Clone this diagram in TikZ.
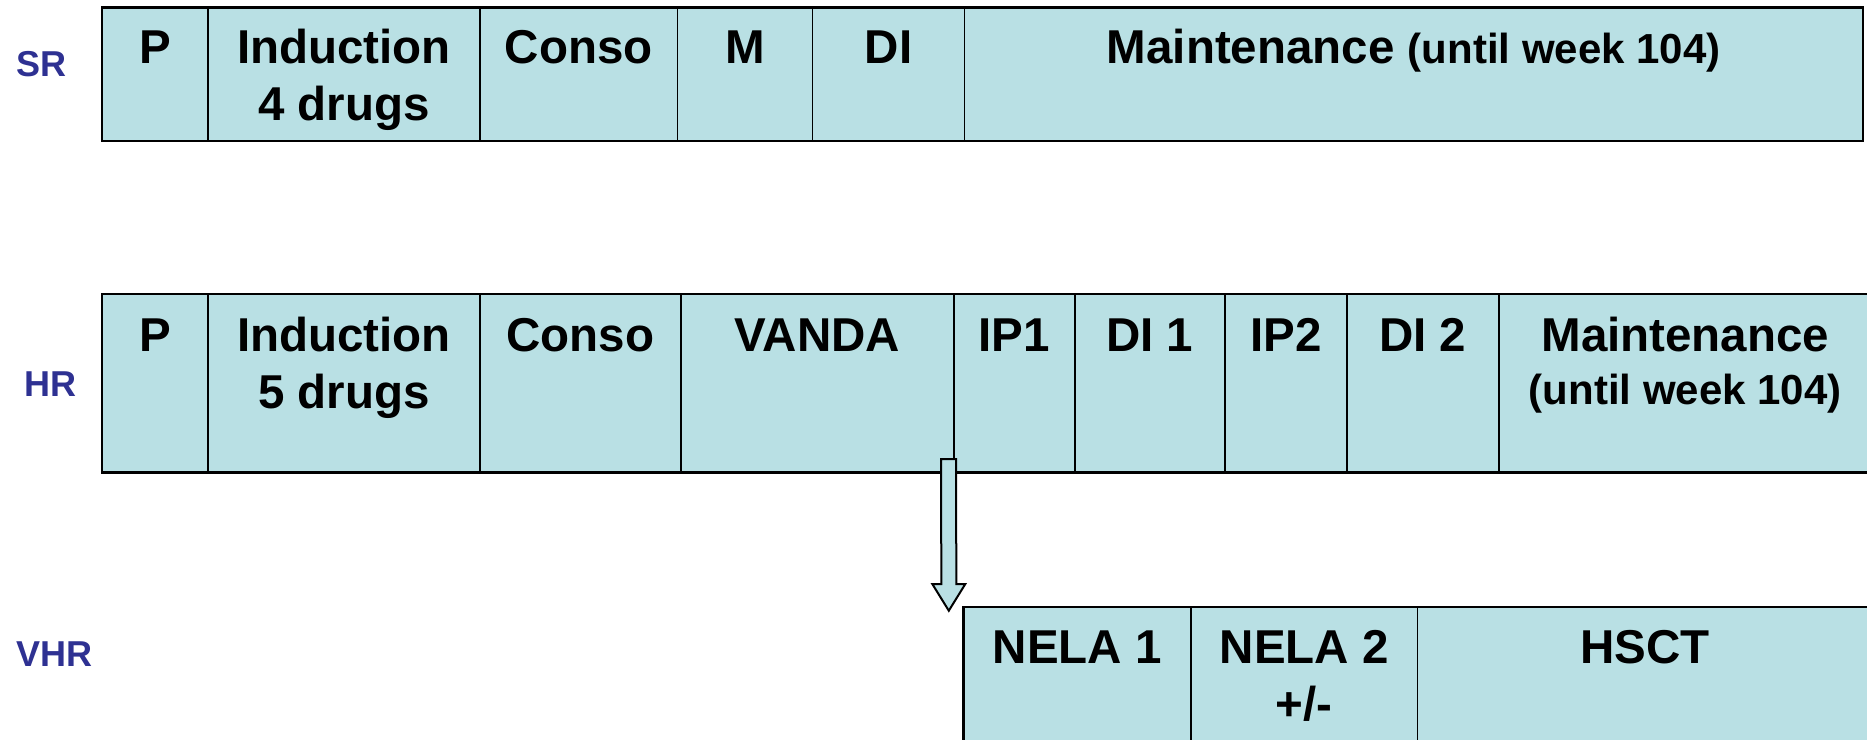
\documentclass[tikz,border=0pt]{standalone}
\usepackage{fontspec}
\setmainfont{Liberation Sans}
\usetikzlibrary{calc,fit}

\definecolor{phasefill}{RGB}{185,224,228}
\definecolor{armblue}{RGB}{46,49,146}

% centred multi-line text whose baseline is that of its first line
\newcommand\stacked[1]{\begin{tabular}[t]{@{}c@{}}#1\end{tabular}}
\newcommand\notesize{\fontsize{21}{25}\selectfont}

\begin{document}
\begin{tikzpicture}[x=0.5pt,y=-0.5pt,
  cellbox/.style={draw=black, line width=0.9pt, fill=phasefill, inner sep=0pt, outer sep=0pt},
  rowframe/.style={draw=black, line width=1.4pt},
  phasetext/.style={anchor=base, inner sep=0pt, font=\bfseries\fontsize{23.75}{28.5}\selectfont},
  armlabel/.style={anchor=base west, inner sep=0pt, text=armblue, font=\bfseries\fontsize{18}{20}\selectfont},
  blockarrow/.style={draw=black, line width=1pt, fill=phasefill, line join=miter},
]
\useasboundingbox (0,0) rectangle (1867,739);
\clip (0,0) rectangle (1867,739);

% ---------- SR arm ----------
\node[cellbox, fit={(102,7.5) (208,141)}]    (srP)   {};
\node[cellbox, fit={(208,7.5) (480,141)}]    (srInd) {};
\node[cellbox, fit={(480,7.5) (677.5,141)}]  (srCon) {};
\node[cellbox, fit={(677.5,7.5) (812.5,141)}](srM)   {};
\node[cellbox, fit={(812.5,7.5) (964.5,141)}](srDI)  {};
\node[cellbox, fit={(964.5,7.5) (1863,141)}] (srMnt) {};
\draw[rowframe] (srP.north west) rectangle (srMnt.south east);

\node[phasetext] (tsrP)   at ($(srP.north)+(0,56)$)   {P};
\node[phasetext] (tsrInd) at ($(srInd.north)+(0,56)$) {\stacked{Induction\\4 drugs}};
\node[phasetext] (tsrCon) at ($(srCon.north)+(0,56)$) {Conso};
\node[phasetext] (tsrM)   at ($(srM.north)+(0,56)$)   {M};
\node[phasetext] (tsrDI)  at ($(srDI.north)+(0,56)$)  {DI};
\node[phasetext] (tsrMnt) at ($(srMnt.north)+(0,56)$) {Maintenance {\notesize(until week 104)}};

% ---------- HR arm ----------
\node[cellbox, fit={(102,294) (208,472.7)}]     (hrP)   {};
\node[cellbox, fit={(208,294) (480,472.7)}]     (hrInd) {};
\node[cellbox, fit={(480,294) (681,472.7)}]     (hrCon) {};
\node[cellbox, fit={(681,294) (953.6,472.7)}]   (hrVan) {};
\node[cellbox, fit={(953.6,294) (1074.7,472.7)}](hrIPa) {};
\node[cellbox, fit={(1074.7,294) (1225,472.7)}] (hrDIa) {};
\node[cellbox, fit={(1225,294) (1347,472.7)}]   (hrIPb) {};
\node[cellbox, fit={(1347,294) (1498.6,472.7)}] (hrDIb) {};
\node[cellbox, fit={(1498.6,294) (1872,472.7)}] (hrMnt) {};
\draw[rowframe] (hrP.north west) rectangle (hrMnt.south east);

\node[phasetext] (thrP)   at ($(hrP.north)+(0,57)$)   {P};
\node[phasetext] (thrInd) at ($(hrInd.north)+(0,57)$) {\stacked{Induction\\5 drugs}};
\node[phasetext] (thrCon) at ($(hrCon.north)+(0,57)$) {Conso};
\node[phasetext] (thrVan) at ($(hrVan.north)+(0,57)$) {VANDA};
\node[phasetext] (thrIPa) at ($(hrIPa.north)+(0,57)$) {IP1};
\node[phasetext] (thrDIa) at ($(hrDIa.north)+(0,57)$) {DI 1};
\node[phasetext] (thrIPb) at ($(hrIPb.north)+(0,57)$) {IP2};
\node[phasetext] (thrDIb) at ($(hrDIb.north)+(0,57)$) {DI 2};
\node[phasetext] (thrMnt) at ($(hrMnt.north)+(0,57.7)$) {\stacked{Maintenance\\[-1.9pt]{\notesize(until week 104)}}};

% ---------- VHR arm ----------
\node[cellbox, fit={(963.3,607) (1191,770)}]   (vhNa) {};
\node[cellbox, fit={(1191,607) (1417.5,770)}]  (vhNb) {};
\node[cellbox, fit={(1417.5,607) (1872,770)}]  (vhHS) {};
\draw[rowframe] (vhNa.north west) rectangle (vhHS.south east);

\node[phasetext] (tvhNa) at ($(vhNa.north)+(0,56.3)$) {NELA 1};
\node[phasetext] (tvhNb) at ($(vhNb.north)+(0,56.3)$) {\stacked{NELA 2\\+/-}};
\node[phasetext] (tvhHS) at ($(vhHS.north)+(0,56.3)$) {HSCT};

% ---------- switch from HR to VHR ----------
\coordinate (arrowstart) at ($(hrVan.south east)+(-5,-13.7)$);
\coordinate (arrowtip)   at ($(vhNa.north west)+(-14.5,3.7)$);
\draw[blockarrow]
  ($(arrowstart)+(-7.5,0)$) -- ($(arrowstart)+(7.5,0)$)
  -- ($(arrowtip)+(7.5,-26.7)$) -- ($(arrowtip)+(16.5,-26.7)$)
  -- (arrowtip)
  -- ($(arrowtip)+(-16.5,-26.7)$) -- ($(arrowtip)+(-7.5,-26.7)$)
  -- cycle;

% ---------- arm labels ----------
\node[armlabel] (lsr)  at (16.5,76.7)  {SR};
\node[armlabel] (lhr)  at (24,396)     {HR};
\node[armlabel] (lvhr) at (16,666.7)   {VHR};
\end{tikzpicture}
\end{document}
